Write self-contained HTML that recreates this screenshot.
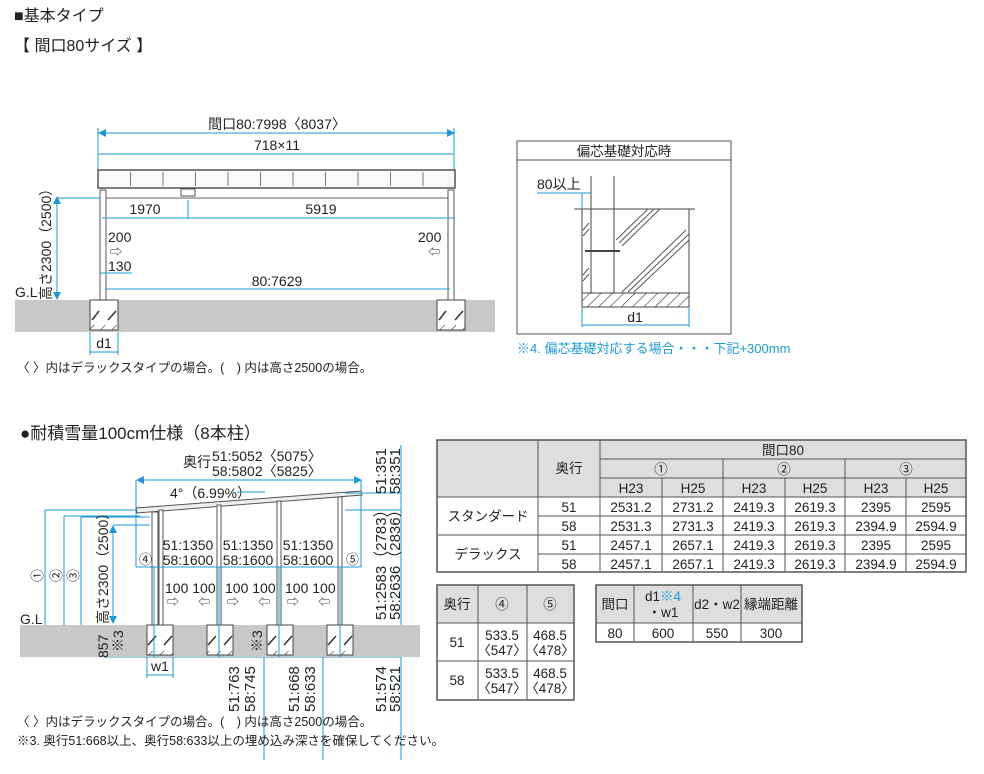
<!DOCTYPE html>
<html><head><meta charset="utf-8"><style>
html,body{margin:0;padding:0;background:#fff}
svg{display:block}
text{font-family:"Liberation Sans","Noto Sans CJK JP",sans-serif;fill:#222}
.b{stroke:#1a9bd7;stroke-width:1;fill:none}
.bt{fill:#1a9bd7}
</style></head><body>
<svg width="984" height="774" viewBox="0 0 984 774" xmlns="http://www.w3.org/2000/svg">
<defs>
<pattern id="h" width="8" height="8" patternUnits="userSpaceOnUse" patternTransform="rotate(45)"><line x1="0" y1="0" x2="0" y2="8" stroke="#333" stroke-width="1.2"/></pattern>
</defs>
<text x="14" y="21" font-size="16">■基本タイプ</text>
<text x="14" y="51" font-size="16">【 間口80サイズ 】</text>

<!-- top diagram -->
<text x="277" y="129" font-size="14" text-anchor="middle">間口80:7998〈8037〉</text>
<line class="b" x1="100" y1="133" x2="453" y2="133"/>
<polygon class="bt" points="98,133 106,129 106,137"/><polygon class="bt" points="455,133 447,129 447,137"/>
<line class="b" x1="98" y1="128" x2="98" y2="175"/><line class="b" x1="454" y1="128" x2="454" y2="175"/>
<text x="277" y="150" font-size="14" text-anchor="middle">718×11</text>
<line class="b" x1="99" y1="154" x2="453" y2="154"/>
<rect x="98" y="170" width="357" height="18" fill="#fafafa" stroke="#555" stroke-width="1.5"/>
<g stroke="#777" stroke-width="1">
<line x1="130.5" y1="172" x2="130.5" y2="186"/><line x1="163" y1="172" x2="163" y2="186"/><line x1="195.5" y1="172" x2="195.5" y2="186"/><line x1="228" y1="172" x2="228" y2="186"/><line x1="260.5" y1="172" x2="260.5" y2="186"/><line x1="293" y1="172" x2="293" y2="186"/><line x1="325.5" y1="172" x2="325.5" y2="186"/><line x1="358" y1="172" x2="358" y2="186"/><line x1="390.5" y1="172" x2="390.5" y2="186"/><line x1="423" y1="172" x2="423" y2="186"/>
</g>
<line x1="104" y1="198" x2="450" y2="198" stroke="#666"/>
<rect x="181" y="189" width="14" height="7" fill="none" stroke="#555"/>
<rect x="100" y="190" width="6" height="110" fill="#fff" stroke="#555"/>
<rect x="448" y="190" width="6" height="110" fill="#fff" stroke="#555"/>
<line class="b" x1="102" y1="218" x2="455" y2="218"/><line class="b" x1="188" y1="200" x2="188" y2="219"/>
<text x="145" y="214" font-size="14" text-anchor="middle">1970</text>
<text x="321" y="214" font-size="14" text-anchor="middle">5919</text>
<text x="108" y="242" font-size="14">200</text>
<text x="418" y="242" font-size="14">200</text>
<text x="110" y="256" font-size="12">⇨</text><text x="428" y="256" font-size="12">⇦</text>
<text x="108" y="271" font-size="14">130</text>
<line class="b" x1="100" y1="273" x2="132" y2="273"/>
<text x="277" y="286" font-size="14" text-anchor="middle">80:7629</text>
<line class="b" x1="105" y1="289" x2="450" y2="289"/>
<line class="b" x1="57" y1="200" x2="57" y2="296"/>
<polygon class="bt" points="57,196 53,204 61,204"/><polygon class="bt" points="57,300 53,292 61,292"/>
<line class="b" x1="57" y1="198" x2="100" y2="198" stroke-width="0.6"/>
<text transform="translate(51,300) rotate(-90)" font-size="14">高さ2300（2500）</text>
<text x="15" y="297" font-size="14">G.L</text>
<rect x="15" y="300" width="480" height="32" fill="#c8c8c8"/>
<rect x="90" y="300" width="28" height="30" fill="#fff" stroke="#444"/>
<rect x="437" y="300" width="28" height="30" fill="#fff" stroke="#444"/>
<rect x="90" y="325" width="28" height="5" fill="url(#h)"/><rect x="437" y="325" width="28" height="5" fill="url(#h)"/>
<g stroke="#333" stroke-width="1.5"><line x1="92" y1="320" x2="99" y2="311"/><line x1="108" y1="320" x2="116" y2="311"/><line x1="439" y1="320" x2="446" y2="311"/><line x1="455" y1="320" x2="463" y2="311"/></g>
<line class="b" x1="90" y1="352" x2="118" y2="352"/><line class="b" x1="90" y1="332" x2="90" y2="355"/><line class="b" x1="118" y1="332" x2="118" y2="355"/>
<text x="104" y="348" font-size="14" text-anchor="middle">d1</text>
<text x="17" y="372" font-size="12.5">〈 〉内はデラックスタイプの場合。(　) 内は高さ2500の場合。</text>

<!-- right box -->
<rect x="517" y="141" width="214" height="193" fill="none" stroke="#555"/>
<line x1="517" y1="160" x2="731" y2="160" stroke="#555"/>
<text x="624" y="156" font-size="13.5" text-anchor="middle">偏芯基礎対応時</text>
<rect x="582" y="209" width="107" height="98" fill="#fff" stroke="#444"/>
<line x1="574" y1="209" x2="695" y2="209" stroke="#444"/>
<rect x="582" y="293" width="107" height="14" fill="url(#h)" stroke="#444"/>
<line x1="591" y1="176" x2="591" y2="293" stroke="#444"/><line x1="614" y1="176" x2="614" y2="293" stroke="#444"/>
<line x1="585" y1="251" x2="620" y2="251" stroke="#444" stroke-width="2"/>
<g stroke="#555" stroke-width="1"><line x1="616" y1="240" x2="648" y2="209"/><line x1="619" y1="243" x2="654" y2="209"/><line x1="622" y1="246" x2="660" y2="209"/>
<line x1="622" y1="292" x2="686" y2="230"/><line x1="628" y1="292" x2="689" y2="234"/><line x1="634" y1="292" x2="689" y2="240"/>
<line x1="583" y1="230" x2="589" y2="223"/><line x1="583" y1="236" x2="589" y2="229"/><line x1="583" y1="275" x2="589" y2="268"/><line x1="583" y1="281" x2="589" y2="274"/></g>
<text x="537" y="189" font-size="14">80以上</text>
<line class="b" x1="537" y1="193" x2="591" y2="193"/><line class="b" x1="582" y1="193" x2="582" y2="209"/>
<line class="b" x1="582" y1="325" x2="689" y2="325"/><line class="b" x1="582" y1="308" x2="582" y2="327"/><line class="b" x1="689" y1="308" x2="689" y2="327"/>
<text x="635" y="322" font-size="14" text-anchor="middle">d1</text>
<text x="517" y="353" font-size="13" style="fill:#1a9bd7">※4. 偏芯基礎対応する場合・・・下記+300mm</text>

<!-- bottom diagram -->
<text x="20" y="439" font-size="17">●耐積雪量100cm仕様（8本柱）</text>
<text x="183" y="467" font-size="14">奥行</text>
<text x="212" y="461" font-size="14">51:5052〈5075〉</text>
<text x="212" y="476" font-size="14">58:5802〈5825〉</text>
<line class="b" x1="138" y1="480" x2="360" y2="480"/>
<polygon class="bt" points="136,480 144,476 144,484"/><polygon class="bt" points="362,480 354,476 354,484"/>
<line class="b" x1="136" y1="480" x2="136" y2="567"/><line class="b" x1="361" y1="480" x2="361" y2="567"/>
<text x="170" y="498" font-size="14">4°（6.99%）</text>
<line class="b" x1="237" y1="492" x2="265" y2="492" stroke-width="1.5"/>
<polygon points="136,508 361,491 362,495 137,513" fill="#eee" stroke="#555"/>
<g fill="#fff" stroke="#555">
<rect x="152" y="512" width="6" height="113"/><rect x="159" y="510" width="4" height="115"/>
<rect x="217" y="505" width="4" height="120"/><rect x="277" y="501" width="4" height="124"/><rect x="338" y="497" width="4" height="128"/>
</g>
<g class="b" stroke-width="0.8">
<line x1="45" y1="510" x2="136" y2="510"/><line x1="64" y1="516" x2="140" y2="516"/><line x1="81" y1="517" x2="150" y2="517"/>
<line x1="45" y1="510" x2="45" y2="625"/><line x1="64" y1="516" x2="64" y2="625"/><line x1="81" y1="517" x2="81" y2="625"/>
<line x1="136" y1="567" x2="361" y2="567"/>
<line x1="345" y1="493" x2="401" y2="493"/><line x1="345" y1="510" x2="401" y2="510"/>
<line x1="401" y1="445" x2="401" y2="760"/>
<line x1="105" y1="657" x2="401" y2="657"/>
<line x1="264" y1="625" x2="264" y2="760"/><line x1="323" y1="625" x2="323" y2="760"/>
</g>
<text transform="translate(42,582) rotate(-90)" font-size="13">①</text>
<text transform="translate(61,582) rotate(-90)" font-size="13">②</text>
<text transform="translate(78,582) rotate(-90)" font-size="13">③</text>
<line class="b" x1="113" y1="530" x2="113" y2="620"/>
<polygon class="bt" points="113,525 109,533 117,533"/><polygon class="bt" points="113,624 109,616 117,616"/>
<line class="b" x1="113" y1="525" x2="150" y2="525" stroke-width="0.6"/>
<text transform="translate(108,624) rotate(-90)" font-size="14">高さ2300（2500）</text>
<text x="20" y="624" font-size="14">G.L</text>
<text x="139" y="564" font-size="13">④</text><text x="346" y="564" font-size="13">⑤</text>
<g font-size="14" text-anchor="middle">
<text x="188" y="550">51:1350</text><text x="188" y="565">58:1600</text>
<text x="248" y="550">51:1350</text><text x="248" y="565">58:1600</text>
<text x="308" y="550">51:1350</text><text x="308" y="565">58:1600</text>
</g>
<g font-size="14"><text x="165" y="593">100 100</text><text x="225" y="593">100 100</text><text x="285" y="593">100 100</text></g>
<g font-size="12"><text x="167" y="606">⇨</text><text x="198" y="606">⇦</text><text x="227" y="606">⇨</text><text x="258" y="606">⇦</text><text x="287" y="606">⇨</text><text x="318" y="606">⇦</text></g>
<rect x="20" y="625" width="400" height="32" fill="#c8c8c8"/>
<g fill="#fff" stroke="#444">
<rect x="147" y="625" width="26" height="30"/><rect x="207" y="625" width="26" height="30"/><rect x="267" y="625" width="26" height="30"/><rect x="327" y="625" width="26" height="30"/>
</g>
<g fill="url(#h)"><rect x="147" y="651" width="26" height="4"/><rect x="207" y="651" width="26" height="4"/><rect x="267" y="651" width="26" height="4"/><rect x="327" y="651" width="26" height="4"/></g>
<g stroke="#333" stroke-width="1.5"><line x1="148" y1="645" x2="156" y2="636"/><line x1="164" y1="645" x2="172" y2="636"/><line x1="208" y1="645" x2="216" y2="636"/><line x1="224" y1="645" x2="232" y2="636"/><line x1="268" y1="645" x2="276" y2="636"/><line x1="284" y1="645" x2="292" y2="636"/><line x1="328" y1="645" x2="336" y2="636"/><line x1="344" y1="645" x2="352" y2="636"/></g>
<g class="b" stroke-width="0.8"><line x1="154" y1="567" x2="154" y2="657"/><line x1="219" y1="567" x2="219" y2="657"/><line x1="279" y1="567" x2="279" y2="657"/><line x1="340" y1="567" x2="340" y2="657"/></g>
<text transform="translate(108,658) rotate(-90)" font-size="14">857</text>
<text transform="translate(123,652) rotate(-90)" font-size="14">※3</text>
<text transform="translate(262,652) rotate(-90)" font-size="14">※3</text>
<line class="b" x1="147" y1="675" x2="173" y2="675"/><line class="b" x1="147" y1="657" x2="147" y2="678"/><line class="b" x1="173" y1="657" x2="173" y2="678"/>
<text x="160" y="671" font-size="14" text-anchor="middle">w1</text>
<g font-size="15">
<text transform="translate(239,712) rotate(-90)">51:763</text><text transform="translate(255,712) rotate(-90)">58:745</text>
<text transform="translate(299,712) rotate(-90)">51:668</text><text transform="translate(315,712) rotate(-90)">58:633</text>
<text transform="translate(386,712) rotate(-90)">51:574</text><text transform="translate(400,712) rotate(-90)">58:521</text>
<text transform="translate(386,494) rotate(-90)">51:351</text><text transform="translate(400,494) rotate(-90)">58:351</text>
<text transform="translate(386,620) rotate(-90)">51:2583（2783）</text><text transform="translate(400,620) rotate(-90)">58:2636（2836）</text>
</g>
<text x="17" y="726" font-size="12.5">〈 〉内はデラックスタイプの場合。(　) 内は高さ2500の場合。</text>
<text x="17" y="745" font-size="12.5">※3. 奥行51:668以上、奥行58:633以上の埋め込み深さを確保してください。</text>

<!-- table 1 -->
<rect x="437" y="440" width="529" height="57" fill="#dedede"/>
<g stroke="#555" stroke-width="1">
<rect x="437" y="440" width="529" height="132" fill="none" stroke-width="1.5"/>
<line x1="538" y1="440" x2="538" y2="572"/><line x1="600" y1="440" x2="600" y2="572"/>
<line x1="600" y1="459" x2="966" y2="459"/><line x1="600" y1="478" x2="966" y2="478"/>
<line x1="437" y1="497" x2="966" y2="497"/><line x1="437" y1="535" x2="966" y2="535"/>
<line x1="538" y1="516" x2="966" y2="516"/><line x1="538" y1="554" x2="966" y2="554"/>
<line x1="723" y1="459" x2="723" y2="572"/><line x1="845" y1="459" x2="845" y2="572"/>
<line x1="662" y1="478" x2="662" y2="572"/><line x1="785" y1="478" x2="785" y2="572"/><line x1="906" y1="478" x2="906" y2="572"/>
</g>
<g font-size="13.5" text-anchor="middle">
<text x="569" y="473">奥行</text><text x="783" y="455">間口80</text>
<text x="661" y="474">①</text><text x="784" y="474">②</text><text x="906" y="474">③</text>
<text x="631" y="493">H23</text><text x="693" y="493">H25</text><text x="754" y="493">H23</text><text x="815" y="493">H25</text><text x="876" y="493">H23</text><text x="936" y="493">H25</text>
<text x="488" y="521">スタンダード</text><text x="488" y="559">デラックス</text>
<text x="569" y="512">51</text><text x="569" y="531">58</text><text x="569" y="550">51</text><text x="569" y="569">58</text>
<text x="631" y="512">2531.2</text><text x="693" y="512">2731.2</text><text x="754" y="512">2419.3</text><text x="815" y="512">2619.3</text><text x="876" y="512">2395</text><text x="936" y="512">2595</text>
<text x="631" y="531">2531.3</text><text x="693" y="531">2731.3</text><text x="754" y="531">2419.3</text><text x="815" y="531">2619.3</text><text x="876" y="531">2394.9</text><text x="936" y="531">2594.9</text>
<text x="631" y="550">2457.1</text><text x="693" y="550">2657.1</text><text x="754" y="550">2419.3</text><text x="815" y="550">2619.3</text><text x="876" y="550">2395</text><text x="936" y="550">2595</text>
<text x="631" y="569">2457.1</text><text x="693" y="569">2657.1</text><text x="754" y="569">2419.3</text><text x="815" y="569">2619.3</text><text x="876" y="569">2394.9</text><text x="936" y="569">2594.9</text>
</g>

<!-- table 2 -->
<rect x="437" y="585" width="137" height="38" fill="#dedede"/>
<g stroke="#555" fill="none">
<rect x="437" y="585" width="137" height="115" stroke-width="1.5"/>
<line x1="478" y1="585" x2="478" y2="700"/><line x1="527" y1="585" x2="527" y2="700"/>
<line x1="437" y1="623" x2="574" y2="623"/><line x1="437" y1="661" x2="574" y2="661"/>
</g>
<g font-size="13.5" text-anchor="middle">
<text x="457" y="609">奥行</text><text x="502" y="609">④</text><text x="550" y="609">⑤</text>
<text x="457" y="647">51</text><text x="502" y="640">533.5</text><text x="502" y="655">〈547〉</text><text x="550" y="640">468.5</text><text x="550" y="655">〈478〉</text>
<text x="457" y="685">58</text><text x="502" y="678">533.5</text><text x="502" y="693">〈547〉</text><text x="550" y="678">468.5</text><text x="550" y="693">〈478〉</text>
</g>

<!-- table 3 -->
<rect x="596" y="585" width="206" height="38" fill="#dedede"/>
<g stroke="#555" fill="none">
<rect x="596" y="585" width="206" height="57" stroke-width="1.5"/>
<line x1="634" y1="585" x2="634" y2="642"/><line x1="693" y1="585" x2="693" y2="642"/><line x1="741" y1="585" x2="741" y2="642"/>
<line x1="596" y1="623" x2="802" y2="623"/>
</g>
<g font-size="13.5" text-anchor="middle">
<text x="615" y="609">間口</text>
<text x="663" y="601">d1<tspan style="fill:#1a9bd7">※4</tspan></text><text x="663" y="617">・w1</text>
<text x="717" y="609">d2・w2</text><text x="771" y="609">縁端距離</text>
<text x="615" y="638">80</text><text x="663" y="638">600</text><text x="717" y="638">550</text><text x="771" y="638">300</text>
</g>
</svg>
</body></html>
